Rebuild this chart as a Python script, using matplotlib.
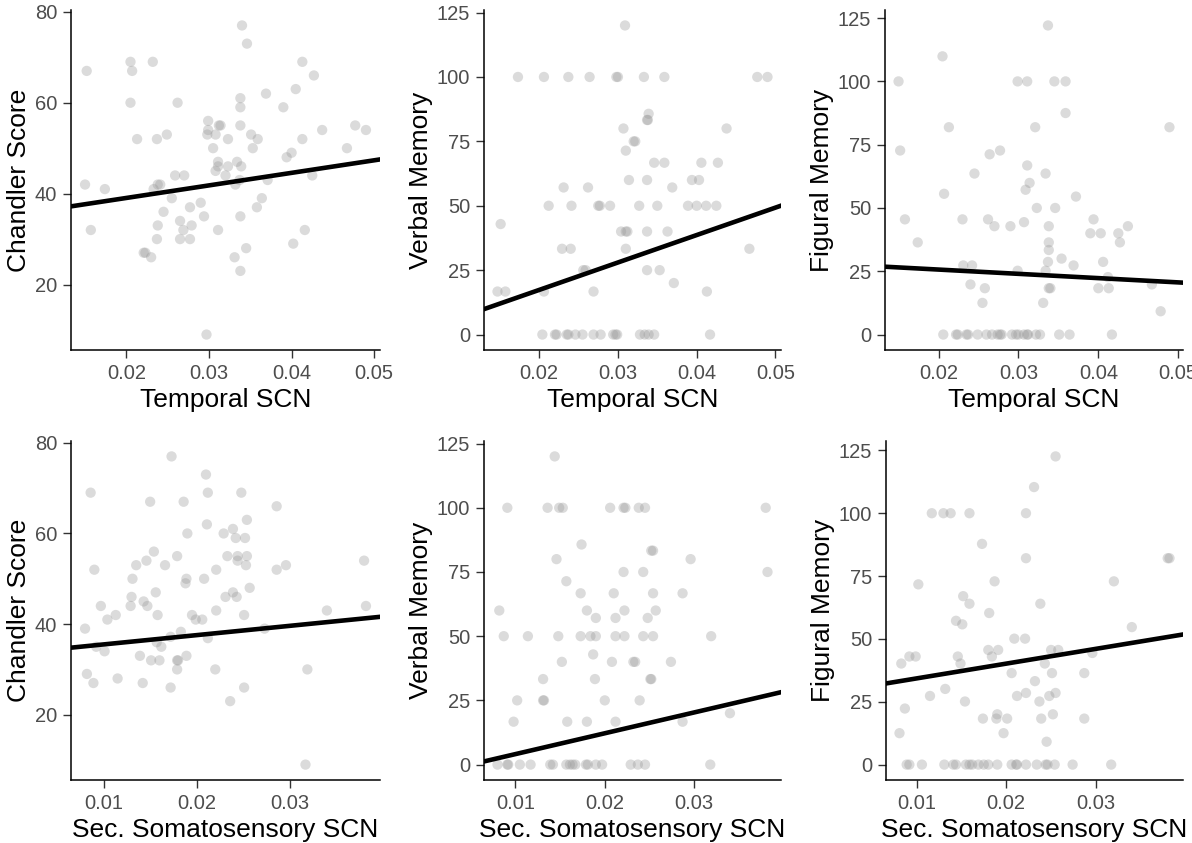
import numpy as np
import matplotlib
matplotlib.use("Agg")
from matplotlib import pyplot as plt

plt.rcParams["font.family"] = ["Liberation Sans", "DejaVu Sans"]

# x labels / y labels
temporal_label = "Temporal SCN"
somato_label = "Sec. Somatosensory SCN"
chandler_label = "Chandler Score"
verbal_label = "Verbal Memory"
figural_label = "Figural Memory"

# panel 1: Temporal SCN vs Chandler Score
p1_x = [0.0152, 0.0205, 0.0207, 0.0232, 0.0205, 0.0262, 0.0213, 0.0237, 0.0249, 0.0150,
        0.0174, 0.0157, 0.0238, 0.0241, 0.0233, 0.0259, 0.0270, 0.0255, 0.0245, 0.0238,
        0.0237, 0.0223, 0.0221, 0.0230, 0.0265, 0.0269, 0.0265, 0.0277, 0.0277, 0.0279,
        0.0290, 0.0294, 0.0297, 0.0299, 0.0299, 0.0298, 0.0308, 0.0312, 0.0314, 0.0305,
        0.0323, 0.0311, 0.0311, 0.0308, 0.0323, 0.0320, 0.0311, 0.0334, 0.0339, 0.0332,
        0.0337, 0.0338, 0.0331, 0.0338, 0.0345, 0.0340, 0.0346, 0.0338, 0.0338, 0.0338,
        0.0351, 0.0359, 0.0353, 0.0369, 0.0371, 0.0364, 0.0358, 0.0390, 0.0394, 0.0400,
        0.0402, 0.0405, 0.0413, 0.0413, 0.0427, 0.0425, 0.0416, 0.0437, 0.0467, 0.0477,
        0.0490]
p1_y = [67, 69, 67, 69, 60, 60, 52, 52, 53, 42,
        41, 32, 42, 42, 41, 44, 44, 39, 36, 33,
        30, 27, 27, 26, 34, 32, 30, 30, 37, 33,
        38, 35, 9, 56, 54, 53, 53, 55, 55, 50,
        52, 47, 46, 45, 46, 44, 32, 47, 46, 42,
        43, 35, 26, 23, 28, 77, 73, 61, 59, 55,
        53, 52, 50, 62, 43, 39, 37, 59, 48, 49,
        29, 63, 69, 52, 66, 44, 32, 54, 50, 55,
        54]
p1_line = [(0.0133, 37.2), (0.0506, 47.5)]

# panel 2: Temporal SCN vs Verbal Memory
p2_x = [0.0173, 0.0206, 0.0237, 0.0264, 0.0298, 0.0300, 0.0333, 0.0359, 0.0477, 0.0490,
        0.0309, 0.0339, 0.0337, 0.0338, 0.0307, 0.0438, 0.0320, 0.0322, 0.0310,
        0.0346, 0.0359, 0.0406, 0.0427,
        0.0314, 0.0337, 0.0394, 0.0403,
        0.0231, 0.0262, 0.0369,
        0.0212, 0.0241, 0.0275, 0.0277, 0.0290, 0.0327, 0.0350, 0.0389, 0.0400, 0.0412, 0.0425,
        0.0151,
        0.0304, 0.0310, 0.0312, 0.0337, 0.0363,
        0.0229, 0.0240, 0.0310, 0.0467,
        0.0256, 0.0259, 0.0337, 0.0353,
        0.0371,
        0.0147, 0.0157, 0.0206, 0.0269, 0.0413,
        0.0204, 0.0220, 0.0222, 0.0235, 0.0237, 0.0246, 0.0255, 0.0269, 0.0278, 0.0294,
        0.0297, 0.0299, 0.0328, 0.0334, 0.0339, 0.0346, 0.0417]
p2_y = [100, 100, 100, 100, 100, 100, 100, 100, 100, 100,
        120, 85.7, 83.3, 83.3, 80, 80, 75, 75, 71.4,
        66.7, 66.7, 66.7, 66.7,
        60, 60, 60, 60,
        57.1, 57.1, 57.1,
        50, 50, 50, 50, 50, 50, 50, 50, 50, 50, 50,
        42.9,
        40, 40, 40, 40, 40,
        33.3, 33.3, 33.3, 33.3,
        25, 25, 25, 25,
        20,
        16.7, 16.7, 16.7, 16.7, 16.7,
        0, 0, 0, 0, 0, 0, 0, 0, 0, 0,
        0, 0, 0, 0, 0, 0, 0]
p2_line = [(0.0133, 10.2), (0.0505, 49.8)]

# panel 3: Temporal SCN vs Figural Memory
p3_x = [0.0337, 0.0205, 0.0150, 0.0299, 0.0311, 0.0345, 0.0359, 0.0359,
        0.0213, 0.0321, 0.0489, 0.0152, 0.0264, 0.0277, 0.0311, 0.0245, 0.0334,
        0.0314, 0.0309, 0.0207, 0.0372, 0.0323, 0.0346,
        0.0158, 0.0230, 0.0262, 0.0394, 0.0270, 0.0290, 0.0307, 0.0338, 0.0437,
        0.0390, 0.0403, 0.0425, 0.0174, 0.0338, 0.0427, 0.0338,
        0.0337, 0.0406, 0.0354, 0.0231, 0.0242, 0.0369, 0.0299, 0.0334, 0.0412,
        0.0240, 0.0467, 0.0258, 0.0338, 0.0340, 0.0400, 0.0413,
        0.0255, 0.0331, 0.0478,
        0.0206, 0.0222, 0.0224, 0.0235, 0.0237, 0.0249, 0.0260, 0.0267, 0.0274, 0.0277,
        0.0279, 0.0292, 0.0297, 0.0300, 0.0307, 0.0311, 0.0312, 0.0322, 0.0327, 0.0351,
        0.0364, 0.0417]
p3_y = [122.1, 109.9, 100, 100, 100, 100, 100, 87.5,
        81.9, 81.9, 81.9, 72.7, 71.2, 72.7, 66.8, 63.6, 63.6,
        59.9, 57.2, 55.6, 54.5, 50, 50,
        45.5, 45.5, 45.5, 45.5, 42.8, 42.8, 44.4, 42.8, 42.8,
        40, 40, 40, 36.4, 36.4, 36.4, 33.4,
        28.7, 28.7, 30, 27.3, 27.3, 27.3, 25.2, 25.2, 22.7,
        19.8, 19.8, 18.3, 18.3, 18.3, 18.3, 18.3,
        12.5, 12.5, 9.2,
        0, 0, 0, 0, 0, 0, 0, 0, 0, 0,
        0, 0, 0, 0, 0, 0, 0, 0, 0, 0,
        0, 0]
p3_line = [(0.0133, 26.8), (0.0506, 20.5)]

# panel 4: Sec. Somatosensory SCN vs Chandler Score
p4_x = [0.0173, 0.0210, 0.0086, 0.0212, 0.0248, 0.0150, 0.0186, 0.0286,
        0.0254, 0.0211, 0.0229, 0.0190, 0.0239, 0.0242, 0.0252,
        0.0154, 0.0179, 0.0233, 0.0244, 0.0254,
        0.0146, 0.0244, 0.0380,
        0.0135, 0.0166, 0.0253, 0.0296,
        0.0090, 0.0221, 0.0286,
        0.0131, 0.0208, 0.0189, 0.0188, 0.0257, 0.0156, 0.0239,
        0.0130, 0.0231, 0.0243, 0.0143,
        0.0097, 0.0129, 0.0147, 0.0382, 0.0221, 0.0340,
        0.0113, 0.0158, 0.0195, 0.0251, 0.0104, 0.0199, 0.0206,
        0.0080, 0.0273, 0.0183, 0.0172, 0.0212,
        0.0092, 0.0162, 0.0157, 0.0101, 0.0139, 0.0189,
        0.0151, 0.0160, 0.0179, 0.0180,
        0.0179, 0.0220, 0.0319, 0.0082, 0.0115, 0.0089, 0.0142,
        0.0172, 0.0251, 0.0236, 0.0317]
p4_y = [77, 73, 69, 69, 69, 67, 67, 66,
        63, 62, 60, 60, 61, 59, 59,
        56, 55, 55, 55, 55,
        54, 54, 54,
        53, 53, 53, 53,
        52, 52, 52,
        50, 50, 50, 49, 48, 47, 47,
        46, 46, 46, 45,
        44, 44, 44, 44, 43, 43,
        42, 42, 42, 42, 41, 41, 41,
        39, 39, 38.3, 37.2, 36.9,
        35, 35, 36, 34, 33, 33,
        32, 32, 32, 32,
        30, 30, 30, 29, 28, 27, 27,
        26, 26, 23, 9]
p4_line = [(0.0065, 34.8), (0.0397, 41.6)]

# panel 5: Sec. Somatosensory SCN vs Verbal Memory
p5_x = [0.0144,
        0.0091, 0.0136, 0.0149, 0.0153, 0.0206, 0.0221, 0.0223, 0.0238, 0.0245, 0.0380,
        0.0174, 0.0252, 0.0254, 0.0146, 0.0296,
        0.0221, 0.0243, 0.0382, 0.0157,
        0.0173, 0.0210, 0.0254, 0.0287,
        0.0082, 0.0180, 0.0222, 0.0257,
        0.0190, 0.0212, 0.0248,
        0.0087, 0.0114, 0.0148, 0.0173, 0.0184, 0.0190, 0.0212, 0.0222, 0.0243, 0.0254, 0.0319,
        0.0187,
        0.0152, 0.0208, 0.0232, 0.0234, 0.0274,
        0.0131, 0.0189, 0.0251, 0.0252,
        0.0102, 0.0131, 0.0132, 0.0200, 0.0239,
        0.0340,
        0.0098, 0.0158, 0.0180, 0.0212, 0.0287,
        0.0080, 0.0091, 0.0092, 0.0105, 0.0117, 0.0139, 0.0142, 0.0157, 0.0161, 0.0164,
        0.0167, 0.0179, 0.0181, 0.0190, 0.0197, 0.0229, 0.0237, 0.0245, 0.0318]
p5_y = [120,
        100, 100, 100, 100, 100, 100, 100, 100, 100, 100,
        85.7, 83.3, 83.3, 80, 80,
        75, 75, 75, 71.4,
        66.7, 66.7, 66.7, 66.7,
        60, 60, 60, 60,
        57.1, 57.1, 57.1,
        50, 50, 50, 50, 50, 50, 50, 50, 50, 50, 50,
        42.9,
        40, 40, 40, 40, 40,
        33.3, 33.3, 33.3, 33.3,
        25, 25, 25, 25, 25,
        20,
        16.7, 16.7, 16.7, 16.7, 16.7,
        0, 0, 0, 0, 0, 0, 0, 0, 0, 0,
        0, 0, 0, 0, 0, 0, 0, 0, 0]
p5_line = [(0.0067, 1.4), (0.0396, 28.1)]

# panel 6: Sec. Somatosensory SCN vs Figural Memory
p6_x = [0.0255, 0.0231,
        0.0117, 0.0130, 0.0138, 0.0159, 0.0222,
        0.0173, 0.0222, 0.0380, 0.0382,
        0.0102, 0.0187, 0.0320, 0.0152, 0.0159, 0.0238, 0.0181,
        0.0144, 0.0151, 0.0340, 0.0209, 0.0221,
        0.0180, 0.0191, 0.0250, 0.0258,
        0.0184, 0.0083, 0.0092, 0.0099, 0.0146, 0.0149, 0.0243, 0.0296,
        0.0206, 0.0251, 0.0287, 0.0232,
        0.0132, 0.0115, 0.0212, 0.0222, 0.0255, 0.0248,
        0.0154, 0.0237, 0.0087,
        0.0190, 0.0252, 0.0174, 0.0189, 0.0201, 0.0239, 0.0287,
        0.0081, 0.0197, 0.0245,
        0.0089, 0.0092, 0.0106, 0.0131, 0.0141, 0.0144, 0.0155, 0.0159, 0.0162, 0.0169,
        0.0175, 0.0180, 0.0190, 0.0206, 0.0211, 0.0212, 0.0222, 0.0234, 0.0244, 0.0246,
        0.0254, 0.0274, 0.0317]
p6_y = [122.6, 110.4,
        100, 100, 100, 100, 100,
        87.8, 82.1, 82.1, 82.1,
        71.7, 72.9, 72.9, 67, 64, 64, 60.3,
        57.2, 55.8, 54.7, 50.1, 50.1,
        45.6, 45.6, 45.6, 45.6,
        43, 40.2, 43, 43, 43, 40.2, 40.2, 44.4,
        36.4, 36.4, 36.4, 33.2,
        30.1, 27.3, 27.3, 28.5, 28.5, 27.3,
        25.1, 25.1, 22.3,
        20, 20, 18.3, 18.3, 18.3, 18.3, 18.3,
        12.5, 12.5, 9.1,
        0, 0, 0, 0, 0, 0, 0, 0, 0, 0,
        0, 0, 0, 0, 0, 0, 0, 0, 0, 0,
        0, 0, 0]
p6_line = [(0.0068, 32.4), (0.0396, 51.7)]

panels = [
    (p1_x, p1_y, p1_line, temporal_label, chandler_label, [0.02, 0.03, 0.04, 0.05], [20, 40, 60, 80]),
    (p2_x, p2_y, p2_line, temporal_label, verbal_label, [0.02, 0.03, 0.04, 0.05], [0, 25, 50, 75, 100, 125]),
    (p3_x, p3_y, p3_line, temporal_label, figural_label, [0.02, 0.03, 0.04, 0.05], [0, 25, 50, 75, 100, 125]),
    (p4_x, p4_y, p4_line, somato_label, chandler_label, [0.01, 0.02, 0.03], [20, 40, 60, 80]),
    (p5_x, p5_y, p5_line, somato_label, verbal_label, [0.01, 0.02, 0.03], [0, 25, 50, 75, 100, 125]),
    (p6_x, p6_y, p6_line, somato_label, figural_label, [0.01, 0.02, 0.03], [0, 25, 50, 75, 100, 125]),
]

# axes boxes in pixels (left, top, right, bottom)
W, H = 1192, 843
boxes = [
    (71, 10, 380, 350), (484, 10, 781, 350), (885, 10, 1183, 350),
    (71, 441, 380, 780), (484, 441, 781, 780), (886, 441, 1183, 780),
]

fig = plt.figure(figsize=(11.92, 8.43), dpi=100)

for (x, y, line, xlab, ylab, xt, yt), (l, t, r, b) in zip(panels, boxes):
    ax = fig.add_axes([l / W, 1 - b / H, (r - l) / W, (b - t) / H])
    x = np.array(x)
    y = np.array(y)
    ax.scatter(x, y, s=55, color="#999999", alpha=0.35, edgecolors="none", zorder=2)
    # fitted line (fullrange)
    ax.axline(line[0], line[1], color="black", linewidth=3.3, zorder=3)

    # ggplot style 5% expansion
    xr = x.max() - x.min()
    yr = y.max() - y.min()
    ax.set_xlim(x.min() - 0.05 * xr, x.max() + 0.05 * xr)
    ax.set_ylim(y.min() - 0.05 * yr, y.max() + 0.05 * yr)

    ax.set_xticks(xt)
    ax.set_xticklabels([("%.2f" % v) for v in xt])
    ax.set_yticks(yt)
    ax.set_yticklabels([str(v) for v in yt])

    ax.spines["top"].set_visible(False)
    ax.spines["right"].set_visible(False)
    ax.spines["left"].set_linewidth(1.1)
    ax.spines["bottom"].set_linewidth(1.1)
    ax.tick_params(axis="both", length=6, width=1.0, color="#333333",
                   labelcolor="#4D4D4D", labelsize=14.5, pad=4)
    ax.set_xlabel(xlab, fontsize=19, color="black", labelpad=4)
    ax.set_ylabel(ylab, fontsize=19, color="black", labelpad=3)

plt.savefig("out.png", dpi=100)
